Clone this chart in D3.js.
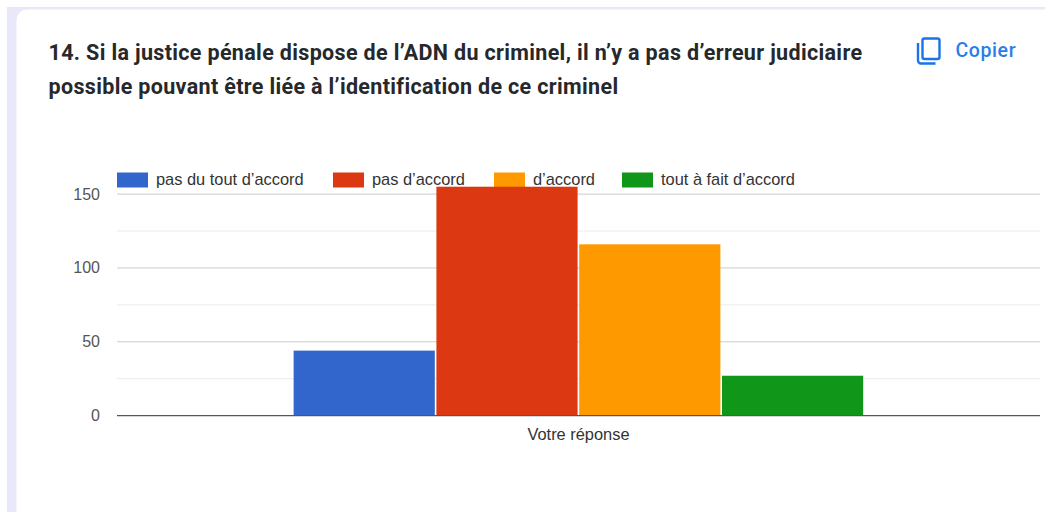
<!DOCTYPE html>
<html><head><meta charset="utf-8">
<script src="https://cdnjs.cloudflare.com/ajax/libs/d3/7.8.5/d3.min.js"></script>
<style>html,body{margin:0;padding:0;background:#fff;overflow:hidden}svg{display:block}</style>
</head><body><svg id="c" width="1045" height="512"></svg>
<script>
const titleLines = ["14. Si la justice pénale dispose de l’ADN du criminel, il n’y a pas d’erreur judiciaire","possible pouvant être liée à l’identification de ce criminel"];
const categories = ["Votre réponse"];
const seriesNames = ["pas du tout d’accord","pas d’accord","d’accord","tout à fait d’accord"];
const seriesValues = [44,155,116,27];
const seriesColors = ["#3366cc","#dc3912","#ff9900","#109618"];
const majorTicks = [0,50,100,150];
const minorTicks = [25,75,125];
const legendX = [117,333,494,622];

const svg = d3.select("#c");
svg.append("rect").attr("x",7).attr("y",7).attr("width",1038).attr("height",505).attr("fill","#e9e8fa");
svg.append("path").attr("d","M16.5,512V20a10.5,10.5 0 0 1 10.5,-10.5H1045V512Z").attr("fill","#fff");

svg.append("g").selectAll("text").data(titleLines).join("text")
  .attr("x",48.5).attr("y",(d,i)=>60+i*34)
  .attr("font-family","Roboto").attr("font-weight",700).attr("font-size",21.5).attr("letter-spacing",0.34).attr("fill","#26282b").text(d=>d);

// copy icon
const ic = svg.append("g").attr("fill","none").attr("stroke","#1a73e8").attr("stroke-width",2.4);
ic.append("rect").attr("x",922.5).attr("y",38.5).attr("width",17).attr("height",20.5).attr("rx",2);
ic.append("path").attr("d","M918,43V60.5a3,3 0 0 0 3,3H935.5");
svg.append("text").attr("x",955.5).attr("y",56.5).attr("font-family","Roboto").attr("font-weight",500).attr("font-size",19.5).attr("letter-spacing",0.6).attr("fill","#2a7de9").text("Copier");

const x0 = d3.scaleBand().domain(categories).range([117,1040]).paddingInner(0).paddingOuter(0.308);
const x1 = d3.scaleBand().domain(seriesNames).range([0,x0.bandwidth()]);
const y = d3.scaleLinear().domain([0,150]).range([415.6,194.1]);

const grid = svg.append("g");
grid.selectAll("line.minor").data(minorTicks).join("line").attr("class","minor")
  .attr("x1",117).attr("x2",1040).attr("y1",d=>y(d)).attr("y2",d=>y(d)).attr("stroke","#ebebeb").attr("stroke-width",1);
grid.selectAll("line.major").data(majorTicks.filter(d=>d>0)).join("line").attr("class","major")
  .attr("x1",117).attr("x2",1040).attr("y1",d=>y(d)).attr("y2",d=>y(d)).attr("stroke","#cccccc").attr("stroke-width",1);

const font = "Liberation Sans";
svg.append("g").selectAll("text").data(majorTicks).join("text")
  .attr("x",100).attr("y",d=>y(d)+5.5).attr("text-anchor","end")
  .attr("font-family",font).attr("font-size",16).attr("fill","#555").text(d=>d);

const leg = svg.append("g").selectAll("g").data(seriesNames).join("g");
leg.append("rect").attr("x",(d,i)=>legendX[i]).attr("y",172.5).attr("width",31).attr("height",15).attr("fill",(d,i)=>seriesColors[i]);
leg.append("text").attr("x",(d,i)=>legendX[i]+39).attr("y",185.3).attr("font-family",font).attr("font-size",16.4).attr("fill","#333").text(d=>d);

svg.append("g").selectAll("rect").data(seriesNames).join("rect")
  .attr("x",d=>x0(categories[0])+x1(d)+0.7)
  .attr("width",x1.bandwidth()-1.6)
  .attr("y",(d,i)=>y(seriesValues[i]))
  .attr("height",(d,i)=>y(0)-y(seriesValues[i]))
  .attr("fill",(d,i)=>seriesColors[i]);

svg.append("line").attr("x1",117).attr("x2",1040).attr("y1",y(0)).attr("y2",y(0)).attr("stroke","#555").attr("stroke-width",1.3);
svg.append("text").attr("x",x0(categories[0])+x0.bandwidth()/2).attr("y",439.5).attr("text-anchor","middle")
  .attr("font-family",font).attr("font-size",16.4).attr("fill","#333").text(categories[0]);
</script></body></html>
